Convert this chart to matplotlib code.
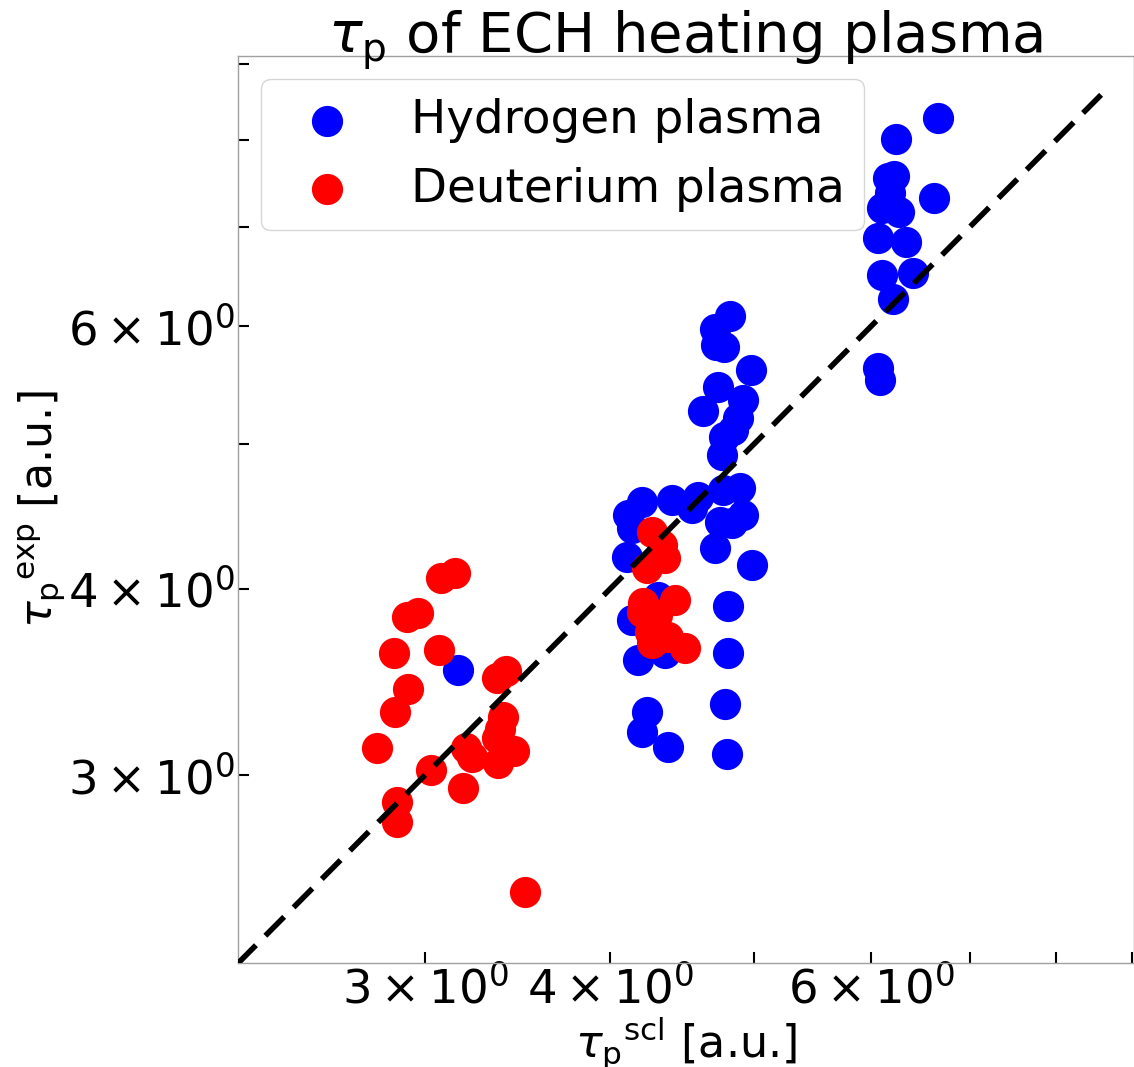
import matplotlib
matplotlib.use("Agg")
import matplotlib.pyplot as plt
import numpy as np

h_scl = [3.158,
         4.205, 4.114, 4.140, 4.406, 4.588, 4.545, 4.770, 4.897, 4.920, 4.747,
         4.837, 4.711, 4.990, 4.108, 4.807, 4.311, 4.140, 4.807, 4.179, 4.358,
         4.784, 4.238, 4.205, 4.378, 4.799,
         4.822, 4.711, 4.718, 4.777, 4.982, 4.733, 4.920, 4.623, 4.882, 4.844,
         4.777, 4.762,
         6.654, 6.233, 6.156, 6.223, 6.175, 6.108, 6.262, 6.613, 6.070, 6.331,
         6.108, 6.400, 6.204, 6.061, 6.080]
h_exp = [3.529,
         4.575, 4.484, 4.394, 4.589, 4.610, 4.532, 4.660, 4.675, 4.484, 4.435,
         4.428, 4.261, 4.150, 4.202, 3.895, 3.950, 3.812, 3.622, 3.583, 3.622,
         3.348, 3.307, 3.206, 3.133, 3.099,
         6.098, 5.977, 5.831, 5.813, 5.610, 5.465, 5.356, 5.266, 5.209, 5.113,
         5.058, 4.919,
         8.281, 8.016, 7.547, 7.571, 7.375, 7.206, 7.161, 7.318, 6.879, 6.837,
         6.497, 6.517, 6.260, 5.627, 5.524]

d_scl = [3.143, 3.076, 2.968, 2.917, 2.859, 3.066, 2.922, 2.863, 2.784, 3.403,
         3.356, 3.387, 3.371, 3.356, 3.198, 3.228, 3.445, 3.361, 3.028, 3.183,
         2.872, 2.872, 3.505,
         4.271, 4.337, 4.358, 4.238, 4.426, 4.211, 4.205, 4.304, 4.258, 4.271,
         4.378, 4.496]
d_exp = [4.099, 4.068, 3.853, 3.830, 3.622, 3.639, 3.426, 3.307, 3.128, 3.523,
         3.485, 3.281, 3.221, 3.177, 3.128, 3.085, 3.113, 3.056, 3.023, 2.940,
         2.877, 2.790, 2.504,
         4.367, 4.280, 4.195, 4.131, 3.932, 3.914, 3.859, 3.842, 3.742, 3.679,
         3.713, 3.651]

line_ends = [2.24, 8.58]

fig = plt.figure(figsize=(11.34, 10.67), dpi=100)
ax = fig.add_axes([0.2099, 0.0975, 0.7901, 0.85])

ax.scatter(h_scl, h_exp, s=460, color="blue", label="Hydrogen plasma", zorder=2)
ax.scatter(d_scl, d_exp, s=460, color="red", label="Deuterium plasma", zorder=3)
ax.plot(line_ends, line_ends, color="k", linestyle=(0, (4.8, 2.4)),
        linewidth=4, zorder=4)

ax.set_xscale("log")
ax.set_yscale("log")
ax.set_xlim(2.243, 9.03)
ax.set_ylim(2.244, 9.11)

for side in ("left", "bottom", "top", "right"):
    ax.spines[side].set_color("#a0a0a0")
    ax.spines[side].set_linewidth(1.0)

ax.tick_params(which="both", direction="in", labelsize=33.5, pad=2,
               top=False, right=False)
ax.tick_params(which="minor", length=8, width=1.5)
ax.tick_params(which="major", length=10, width=1.5)

ax.set_xlabel(r"$\tau_\mathrm{p}{}^\mathrm{scl}$ [a.u.]", fontsize=32, labelpad=2)
ax.set_ylabel(r"$\tau_\mathrm{p}{}^\mathrm{exp}$ [a.u.]", fontsize=32, labelpad=0)
# fixed y stops matplotlib from lifting the title clear of the frame
ax.set_title(r"$\tau_\mathrm{p}$ of ECH heating plasma", fontsize=40.3,
             y=1.0, pad=3)

ax.legend(loc="upper left", fontsize=33.7)

plt.savefig("out.png", dpi=100)
